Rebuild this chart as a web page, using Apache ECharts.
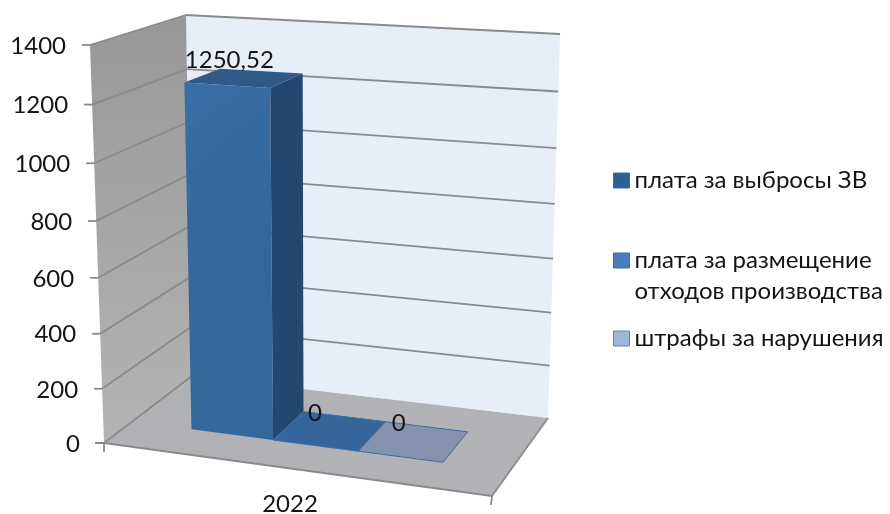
<!DOCTYPE html>
<html>
<head>
<meta charset="utf-8">
<style>html,body{margin:0;padding:0;background:#fff}#c{width:890px;height:514px;filter:blur(0.45px)}</style>
<script src="https://cdn.jsdelivr.net/npm/echarts@6/dist/echarts.min.js"></script>
</head>
<body>
<div id="c"></div>
<script>
const categories = ['2022'];
const seriesNames = ['плата за выбросы ЗВ', 'плата за размещение\nотходов производства', 'штрафы за нарушения'];
const seriesValues = [1250.52, 0, 0];
const valueTicks = [0, 200, 400, 600, 800, 1000, 1200, 1400];

const FONT = '"Lato","Open Sans",sans-serif';
const FS = 24;
const LEGEND_FS = 24;
const TEXT = '#141414';
const GRID_LINE = '#8a8a8a';
const LEGEND_COLORS = ['#2f5f96', '#4a7ebb', '#a3b5d6'];
const LEGEND_BORDERS = ['#3a6ea5', '#3a6ea5', '#5a84b8'];
const LEGEND_TOPS = [165, 214, 323];
const FACES = [
  {front: '#366a9f', side: '#234870', top: '#2f5a87', edge: '#2f5f90'},
  {front: '#35659a', side: '#234870', top: '#35659a', edge: '#3a6ea5'},
  {front: '#8492ad', side: '#6a7c9c', top: '#8492ad', edge: '#3a6ea5'}
];
const BAR_EDGES = [[0.157, 0.373], [0.373, 0.598], [0.598, 0.823]];
const BAR_DEPTH = [0.32, 0.72];
const PERSPECTIVE = 1.057;

function lerp(a, b, t) { return [a[0] + (b[0] - a[0]) * t, a[1] + (b[1] - a[1]) * t]; }
function bilinear(c, u, w) { return lerp(lerp(c[0], c[1], u), lerp(c[3], c[2], u), w); }

// u: along category direction, v: value, w: depth (0 front, 1 back)
function makeProjection(api) {
  const o = api.coord([0, 0]);
  const t = api.coord([0, 1400]);
  const r = api.coord([1, 0]);
  const floor = [o, [r[0], o[1] + 53], [r[0] + 56, o[1] - 25], [o[0] + 88, o[1] - 67]];
  const ceil = [[o[0] - 14, t[1]], [r[0] + 10, t[1] + 23], [r[0] + 68, t[1] - 11], [o[0] + 82, t[1] - 30]];
  return function (u, v, w) {
    const f = (o[1] - api.coord([0, v])[1]) / (o[1] - t[1]);
    const p = f / (f + PERSPECTIVE * (1 - f));
    return lerp(bilinear(floor, u, w), bilinear(ceil, u, w), p);
  };
}
function label(text, p, align, extra) {
  return {type: 'text', x: p[0], y: p[1], z2: 50, style: Object.assign({
    text: text, fill: TEXT, font: FS + 'px ' + FONT, align: align, verticalAlign: 'middle'
  }, extra || {})};
}
function poly(points, fill, stroke, w) {
  return {type: 'polygon', shape: {points: points}, style: {fill: fill, stroke: stroke || null, lineWidth: w || 0}};
}
function seg(a, b) {
  return {type: 'line', shape: {x1: a[0], y1: a[1], x2: b[0], y2: b[1]}, style: {stroke: GRID_LINE, lineWidth: 1.8}};
}
function lin(c1, c2, x, y, x2, y2) {
  return {type: 'linear', x: x, y: y, x2: x2, y2: y2, colorStops: [{offset: 0, color: c1}, {offset: 1, color: c2}]};
}

function renderFrame(params, api) {
  const P = makeProjection(api);
  const top = 1400;
  return {type: 'group', children: [
    poly([P(0,top,1), P(1,top,1), P(1,0,1), P(0,0,1)], '#e8eef7'),
    poly([P(0,top,0), P(0,top,1), P(0,0,1), P(0,0,0)], lin('#98989a', '#b4b4b5', 0, 0, 0, 1)),
    poly([P(0,0,0), P(1,0,0), P(1,0,1), P(0,0,1)], lin('#b0b1b4', '#b2b3b6', 0, 0, 1, 1)),
    seg(P(0,0,0), P(1,0,0)),
    seg(P(1,0,0), P(1,0,1)),
    seg(P(0,0,0), [P(0,0,0)[0] - 9, P(0,0,0)[1]]),
    seg(P(0,0,0), [P(0,0,0)[0], P(0,0,0)[1] + 9]),
    seg(P(1,0,0), [P(1,0,0)[0] - 1, P(1,0,0)[1] + 9]),
    label(categories[0], [P(0.5,0,0)[0] - 8, P(0.5,0,0)[1] + 35], 'center')
  ]};
}
function renderTick(params, api) {
  const P = makeProjection(api);
  const v = api.value(1);
  const a = P(0, v, 0), b = P(0, v, 1), c = P(1, v, 1);
  const kids = [
    seg(a, b),
    label(String(v), [a[0] - 24, a[1] + 1], 'right'),
    seg(a, [a[0] - 8, a[1]])
  ];
  if (v > 0) kids.push(seg(b, c));
  return {type: 'group', children: kids};
}
function renderBar(params, api) {
  const P = makeProjection(api);
  const i = params.seriesIndex - 2;
  const v = api.value(1);
  const [u0, u1] = BAR_EDGES[i];
  const [w0, w1] = BAR_DEPTH;
  const face = FACES[i];
  const kids = [];
  if (v > 0) {
    kids.push(poly([P(u0,v,w0), P(u1,v,w0), P(u1,0,w0), P(u0,0,w0)], lin('#3a6fa5', '#34679b', 0, 0, 1, 0.3)));
    kids.push(poly([P(u1,v,w0), P(u1,v,w1), P(u1,0,w1), P(u1,0,w0)], face.side));
    kids.push(poly([P(u0,v,w0), P(u0,v,w1), P(u1,v,w1), P(u1,v,w0)], face.top));
  } else {
    kids.push(poly([P(u0,0,w0), P(u0,0,w1), P(u1,0,w1), P(u1,0,w0)], face.top, face.edge, 1));
  }
  const c = P((u0 + u1) / 2, v, (w0 + w1) / 2);
  kids.push(label(String(v).replace('.', ','), [c[0] - 15, c[1] - 18], 'center'));
  return {type: 'group', children: kids};
}

const barSeries = seriesNames.map((name, i) => ({
  type: 'custom', name: name, renderItem: renderBar, clip: false, silent: true,
  itemStyle: {color: LEGEND_COLORS[i]},
  data: [[(BAR_EDGES[i][0] + BAR_EDGES[i][1]) / 2, seriesValues[i]]]
}));

const chart = echarts.init(document.getElementById('c'), null, {width: 890, height: 514});
chart.setOption({
  animation: false,
  backgroundColor: '#ffffff',
  grid: {left: 104, width: 388, top: 45, height: 398},
  xAxis: {type: 'value', min: 0, max: 1, show: false},
  yAxis: {type: 'value', min: 0, max: 1400, interval: 200, show: false},
  legend: seriesNames.map((name, i) => ({
    data: [name], left: 613, top: LEGEND_TOPS[i], orient: 'vertical',
    itemWidth: 16, itemHeight: 15, itemGap: 0, padding: 0, icon: 'rect', selectedMode: false,
    itemStyle: {borderColor: LEGEND_BORDERS[i], borderWidth: 1},
    formatter: n => (n.indexOf('\n') >= 0 ? '\n' + n : n),
    textStyle: {fontFamily: FONT, fontSize: LEGEND_FS, color: TEXT, lineHeight: 31}
  })),
  series: [
    {type: 'custom', name: 'frame', renderItem: renderFrame, clip: false, silent: true, data: [[0, 0]]},
    {type: 'custom', name: 'ticks', renderItem: renderTick, clip: false, silent: true, data: valueTicks.map(v => [0, v])}
  ].concat(barSeries)
});
</script>
</body>
</html>
